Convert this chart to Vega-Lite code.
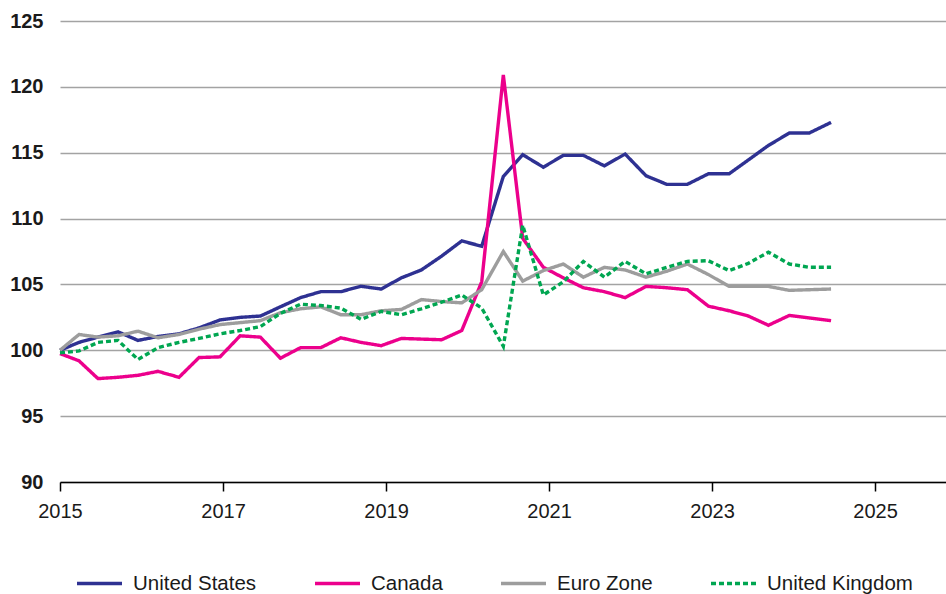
{
  "$schema": "https://vega.github.io/schema/vega-lite/v6.json",
  "width": 886,
  "height": 461,
  "autosize": {"type": "none"},
  "padding": {"left": 60, "top": 21, "right": 0, "bottom": 112},
  "background": "white",
  "config": {
    "view": {"stroke": null},
    "font": "Liberation Sans"
  },
  "data": {
    "values": [
      {"t": 2015.000, "United States": 100.0, "Canada": 99.75, "Euro Zone": 100.0, "United Kingdom": 99.8},
      {"t": 2015.233, "United States": 100.6, "Canada": 99.2, "Euro Zone": 101.2, "United Kingdom": 99.95},
      {"t": 2015.466, "United States": 101.0, "Canada": 97.85, "Euro Zone": 101.0, "United Kingdom": 100.6},
      {"t": 2015.712, "United States": 101.4, "Canada": 97.95, "Euro Zone": 101.1, "United Kingdom": 100.75},
      {"t": 2015.957, "United States": 100.75, "Canada": 98.1, "Euro Zone": 101.45, "United Kingdom": 99.3},
      {"t": 2016.202, "United States": 101.05, "Canada": 98.4, "Euro Zone": 100.95, "United Kingdom": 100.2},
      {"t": 2016.460, "United States": 101.25, "Canada": 97.95, "Euro Zone": 101.2, "United Kingdom": 100.6},
      {"t": 2016.706, "United States": 101.7, "Canada": 99.45, "Euro Zone": 101.6, "United Kingdom": 100.9},
      {"t": 2016.963, "United States": 102.3, "Canada": 99.5, "Euro Zone": 101.95, "United Kingdom": 101.25},
      {"t": 2017.210, "United States": 102.5, "Canada": 101.1, "Euro Zone": 102.1, "United Kingdom": 101.5},
      {"t": 2017.458, "United States": 102.6, "Canada": 101.0, "Euro Zone": 102.25, "United Kingdom": 101.8},
      {"t": 2017.704, "United States": 103.3, "Canada": 99.4, "Euro Zone": 102.85, "United Kingdom": 102.8},
      {"t": 2017.952, "United States": 104.0, "Canada": 100.2, "Euro Zone": 103.15, "United Kingdom": 103.5},
      {"t": 2018.199, "United States": 104.45, "Canada": 100.2, "Euro Zone": 103.3, "United Kingdom": 103.4},
      {"t": 2018.445, "United States": 104.45, "Canada": 100.95, "Euro Zone": 102.7, "United Kingdom": 103.2},
      {"t": 2018.693, "United States": 104.86, "Canada": 100.6, "Euro Zone": 102.7, "United Kingdom": 102.35},
      {"t": 2018.940, "United States": 104.65, "Canada": 100.35, "Euro Zone": 103.0, "United Kingdom": 102.95},
      {"t": 2019.188, "United States": 105.5, "Canada": 100.9, "Euro Zone": 103.1, "United Kingdom": 102.7},
      {"t": 2019.434, "United States": 106.1, "Canada": 100.85, "Euro Zone": 103.85, "United Kingdom": 103.15},
      {"t": 2019.682, "United States": 107.15, "Canada": 100.8, "Euro Zone": 103.7, "United Kingdom": 103.65},
      {"t": 2019.929, "United States": 108.3, "Canada": 101.5, "Euro Zone": 103.6, "United Kingdom": 104.2},
      {"t": 2020.174, "United States": 107.9, "Canada": 105.2, "Euro Zone": 104.6, "United Kingdom": 103.2},
      {"t": 2020.439, "United States": 113.2, "Canada": 120.9, "Euro Zone": 107.5, "United Kingdom": 100.3},
      {"t": 2020.677, "United States": 114.85, "Canada": 108.5, "Euro Zone": 105.25, "United Kingdom": 109.5},
      {"t": 2020.930, "United States": 113.9, "Canada": 106.3, "Euro Zone": 106.05, "United Kingdom": 104.2},
      {"t": 2021.175, "United States": 114.8, "Canada": 105.5, "Euro Zone": 106.55, "United Kingdom": 105.2},
      {"t": 2021.421, "United States": 114.8, "Canada": 104.75, "Euro Zone": 105.55, "United Kingdom": 106.75},
      {"t": 2021.679, "United States": 114.0, "Canada": 104.45, "Euro Zone": 106.3, "United Kingdom": 105.55},
      {"t": 2021.933, "United States": 114.9, "Canada": 104.0, "Euro Zone": 106.1, "United Kingdom": 106.75},
      {"t": 2022.190, "United States": 113.25, "Canada": 104.85, "Euro Zone": 105.55, "United Kingdom": 105.8},
      {"t": 2022.444, "United States": 112.6, "Canada": 104.75, "Euro Zone": 106.0, "United Kingdom": 106.3},
      {"t": 2022.697, "United States": 112.6, "Canada": 104.6, "Euro Zone": 106.55, "United Kingdom": 106.75},
      {"t": 2022.955, "United States": 113.4, "Canada": 103.35, "Euro Zone": 105.75, "United Kingdom": 106.8},
      {"t": 2023.209, "United States": 113.4, "Canada": 103.0, "Euro Zone": 104.85, "United Kingdom": 106.05},
      {"t": 2023.445, "United States": 114.45, "Canada": 102.6, "Euro Zone": 104.85, "United Kingdom": 106.6},
      {"t": 2023.691, "United States": 115.55, "Canada": 101.9, "Euro Zone": 104.85, "United Kingdom": 107.45},
      {"t": 2023.949, "United States": 116.5, "Canada": 102.65, "Euro Zone": 104.55, "United Kingdom": 106.55},
      {"t": 2024.194, "United States": 116.5, "Canada": 102.45, "Euro Zone": 104.6, "United Kingdom": 106.3},
      {"t": 2024.460, "United States": 117.3, "Canada": 102.25, "Euro Zone": 104.65, "United Kingdom": 106.3}
    ]
  },
  "transform": [
    {"fold": ["United States", "Canada", "Euro Zone", "United Kingdom"], "as": ["series", "value"]}
  ],
  "mark": {"type": "line", "strokeWidth": 3.4, "clip": false},
  "encoding": {
    "x": {
      "field": "t",
      "type": "quantitative",
      "scale": {"domain": [2015, 2025.87], "nice": false, "zero": false},
      "axis": {
        "title": null,
        "values": [2015, 2017, 2019, 2021, 2023, 2025],
        "format": "d",
        "grid": false,
        "domain": true,
        "domainColor": "#000000",
        "domainWidth": 1.5,
        "ticks": true,
        "tickColor": "#000000",
        "tickWidth": 1.5,
        "tickSize": 9,
        "labelPadding": 10,
        "labelFont": "Liberation Sans",
        "labelFontSize": 20,
        "labelColor": "#1a1a1a",
        "labelFlush": false
      }
    },
    "y": {
      "field": "value",
      "type": "quantitative",
      "scale": {"domain": [90, 125], "nice": false, "zero": false},
      "axis": {
        "title": null,
        "values": [90, 95, 100, 105, 110, 115, 120, 125],
        "grid": true,
        "gridColor": "#a3a3a3",
        "gridWidth": 1.4,
        "domain": false,
        "ticks": false,
        "labelPadding": 17,
        "labelFont": "Liberation Sans",
        "labelFontSize": 20,
        "labelFontWeight": "bold",
        "labelColor": "#1a1a1a"
      }
    },
    "color": {
      "field": "series",
      "type": "nominal",
      "scale": {
        "domain": ["United States", "Canada", "Euro Zone", "United Kingdom"],
        "range": ["#2E3192", "#EC008C", "#9D9D9D", "#00A651"]
      },
      "legend": {
        "title": null,
        "orient": "none",
        "legendX": 15,
        "legendY": 538,
        "direction": "horizontal",
        "columnPadding": 50,
        "symbolType": "stroke",
        "symbolSize": 2025,
        "symbolStrokeWidth": 3.6,
        "labelFont": "Liberation Sans",
        "labelFontSize": 20.5,
        "labelColor": "#1a1a1a",
        "labelOffset": 9,
        "labelLimit": 300
      }
    },
    "strokeDash": {
      "field": "series",
      "type": "nominal",
      "scale": {
        "domain": ["United States", "Canada", "Euro Zone", "United Kingdom"],
        "range": [[1, 0], [1, 0], [1, 0], [5, 3]]
      },
      "legend": {
        "title": null,
        "orient": "none",
        "legendX": 15,
        "legendY": 538,
        "direction": "horizontal",
        "columnPadding": 50,
        "symbolType": "stroke",
        "symbolSize": 2025,
        "symbolStrokeWidth": 3.6,
        "labelFont": "Liberation Sans",
        "labelFontSize": 20.5,
        "labelColor": "#1a1a1a",
        "labelOffset": 9,
        "labelLimit": 300
      }
    }
  }
}
